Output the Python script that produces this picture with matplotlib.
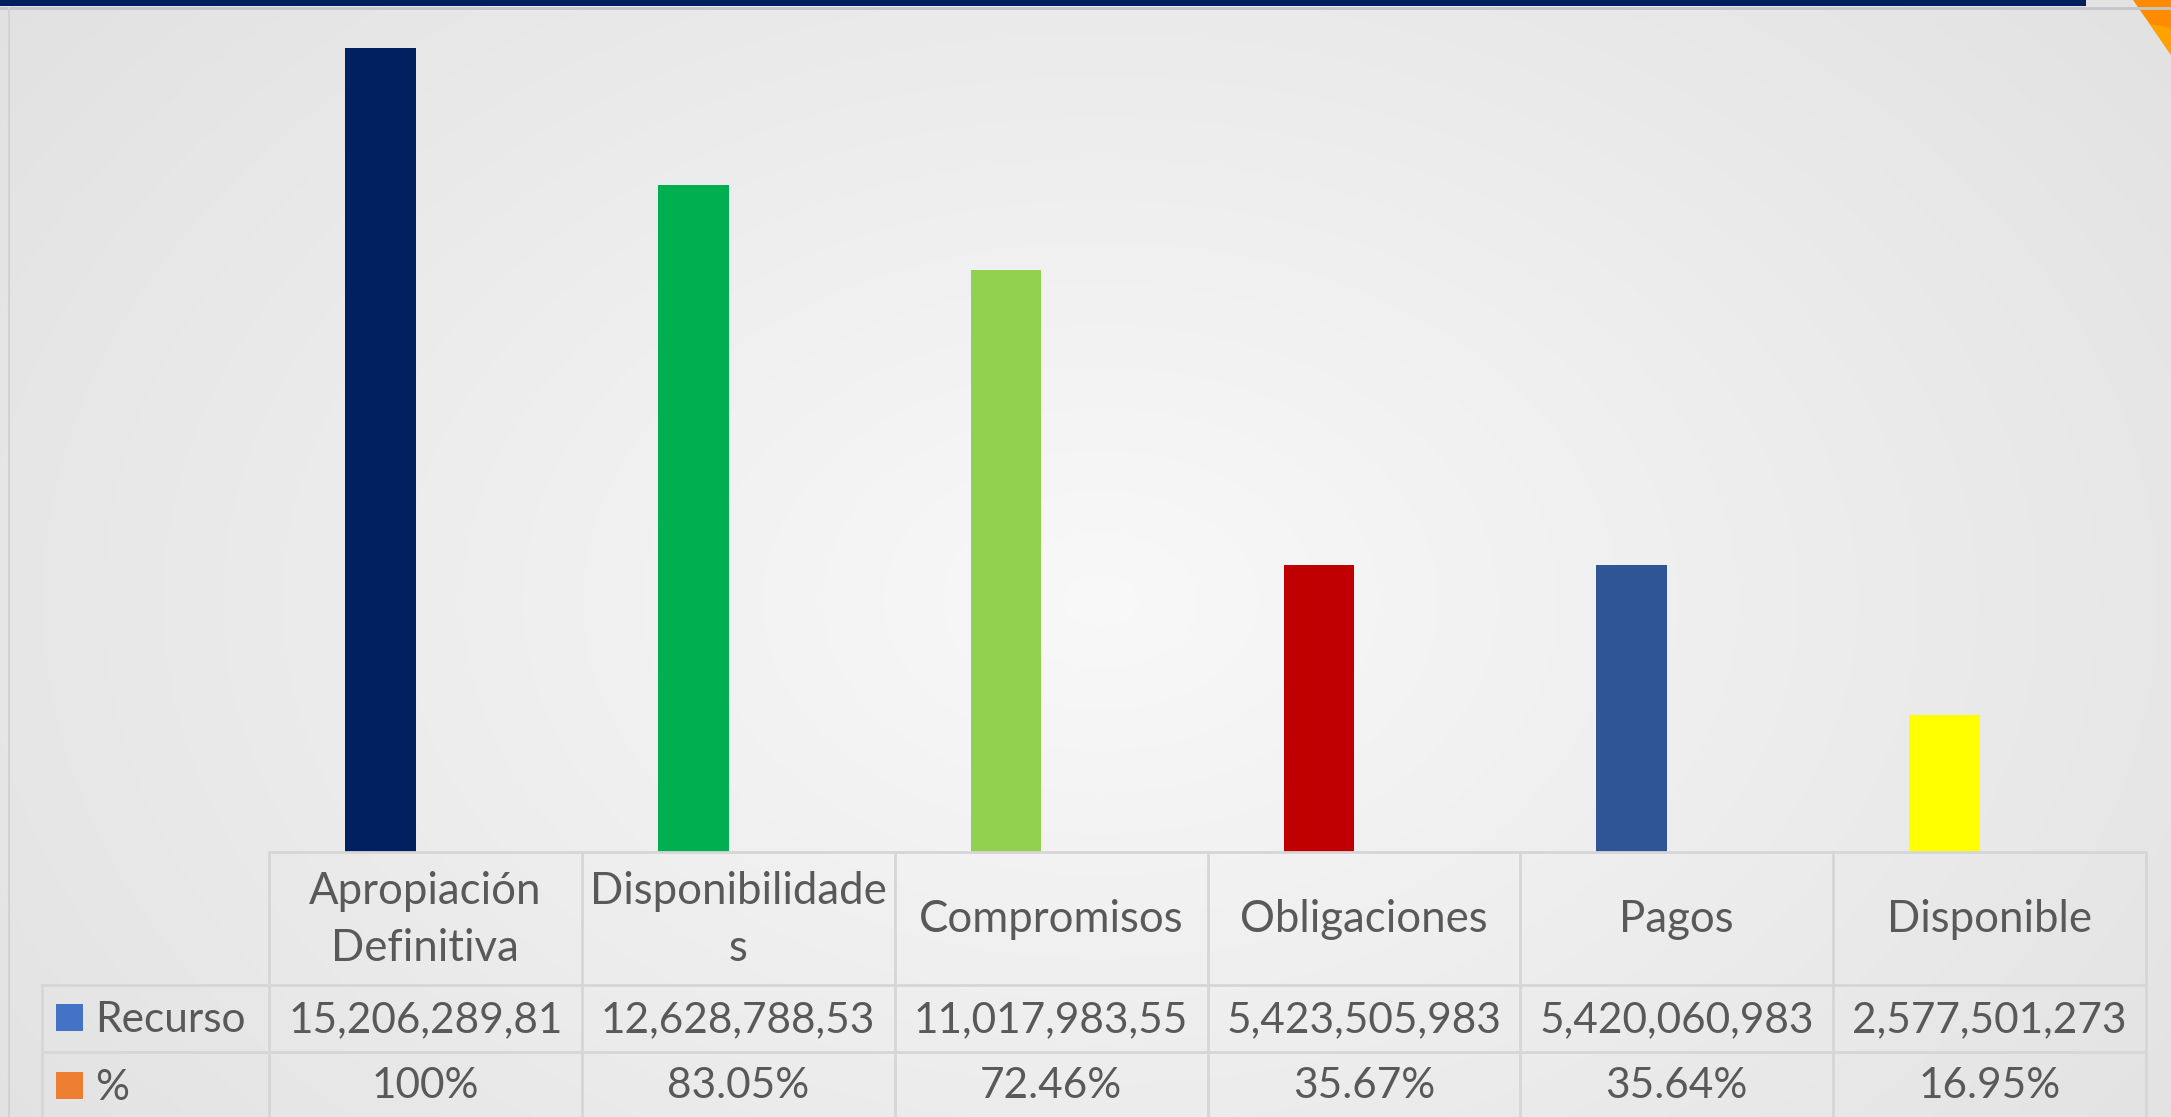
import numpy as np
import matplotlib
matplotlib.use("Agg")
from matplotlib import pyplot as plt
from matplotlib.patches import Rectangle, Polygon

# --- data ---
categories = ["Apropiación\nDefinitiva", "Disponibilidade\ns", "Compromisos",
              "Obligaciones", "Pagos", "Disponible"]
recurso = [15206289810, 12628788530, 11017983550, 5423505983, 5420060983, 2577501273]
recurso_text = ["15,206,289,81", "12,628,788,53", "11,017,983,55",
                "5,423,505,983", "5,420,060,983", "2,577,501,273"]
porcentaje_text = ["100%", "83.05%", "72.46%", "35.67%", "35.64%", "16.95%"]
bar_colors = ["#002060", "#00B050", "#92D050", "#C00000", "#2F5597", "#FFFF00"]
series_names = ["Recurso", "%"]
series_colors = ["#4472C4", "#ED7D31"]

W, H = 2171, 1117
plt.rcParams['font.family'] = ['Lato', 'DejaVu Sans']
txt_color = "#595959"
fs = 30.5

fig = plt.figure(figsize=(W / 100, H / 100), dpi=100)

# background radial gradient
bg = fig.add_axes([0, 0, 1, 1], zorder=-2)
yy, xx = np.mgrid[0:H, 0:W]
r = np.sqrt(((xx - 1100) / 1300) ** 2 + ((yy - 600) / 900) ** 2)
shade = 0.975 - 0.085 * np.clip(r, 0, 1.2)
bg.imshow(np.dstack([shade] * 3), extent=[0, W, H, 0], aspect="auto")
bg.set_xlim(0, W)
bg.set_ylim(H, 0)
bg.axis("off")

# bars (Recurso sits left of centre; the % series beside it is too small to see)
left, right = 269, 2146
base_y, top_y = 851.5, 6.5
ax = fig.add_axes([left / W, 1 - base_y / H, (right - left) / W, (base_y - top_y) / H])
ax.patch.set_alpha(0)
x = np.arange(len(categories))
ax.bar(x - 0.144, recurso, width=0.226, color=bar_colors)
ax.set_xlim(-0.5, len(categories) - 0.5)
ax.set_ylim(0, 16e9)
ax.axis("off")

# overlay in pixel coords: decorations and data table
ov = fig.add_axes([0, 0, 1, 1], zorder=3)
ov.patch.set_alpha(0)
ov.set_xlim(0, W)
ov.set_ylim(H, 0)
ov.axis("off")

# top band, orange corner, left edge line
ov.add_patch(Rectangle((0, 0), 2086, 6, color="#001F5F", lw=0))
ov.plot([0, W], [7.5, 7.5], color="#c4c6cc", lw=2)
ov.add_patch(Polygon([(2133, 0), (W, 0), (W, 55)], color="#FF8C00", lw=0))
ov.add_patch(Polygon([(2150, 24), (W, 28), (W, 55)], color="#FFA200", lw=0))
ov.plot([9, 9], [8, H], color="#d2d2d2", lw=1.5)

grid = "#d6d6d6"
col_w = (right - left) / len(categories)
row_y = [base_y, 984.5, 1052.3, 1125]
label_left = 41.5

# horizontal lines
ov.plot([left, right], [row_y[0], row_y[0]], color=grid, lw=2)
for yv in row_y[1:3]:
    ov.plot([label_left, right], [yv, yv], color=grid, lw=2)
# vertical lines
ov.plot([label_left, label_left], [row_y[1], H], color=grid, lw=2)
for i in range(len(categories) + 1):
    xv = left + i * col_w
    ov.plot([xv, xv], [row_y[0], H], color=grid, lw=2)

for i, cat in enumerate(categories):
    cx = left + (i + 0.5) * col_w
    ov.text(cx, (row_y[0] + row_y[1]) / 2 + 2, cat, ha="center", va="center",
            fontsize=fs + 1, color=txt_color, linespacing=1.5)
    ov.text(cx, (row_y[1] + row_y[2]) / 2 + 2, recurso_text[i], ha="center",
            va="center", fontsize=fs, color=txt_color)
    ov.text(cx, 1086, porcentaje_text[i], ha="center", va="center",
            fontsize=fs, color=txt_color)

# row headers with legend keys
for name, col, yc in zip(series_names, series_colors, [1018, 1086]):
    ov.add_patch(Rectangle((56, yc - 14), 27, 27, color=col, lw=0))
    ov.text(95, yc + 2, name, ha="left", va="center", fontsize=fs, color=txt_color)

fig.savefig("out.png", dpi=100)
